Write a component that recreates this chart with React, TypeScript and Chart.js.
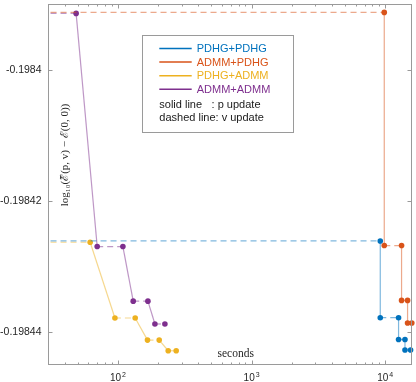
import React, { useEffect, useRef } from "react";
import { Chart, registerables } from "chart.js";

Chart.register(...registerables);

// ---- data ----
const seriesNames = ["PDHG+PDHG", "ADMM+PDHG", "PDHG+ADMM", "ADMM+ADMM"];
const seriesColors = ["#0072BD", "#D95319", "#EDB120", "#7E2F8E"];
const seriesLineColors = [
  "rgba(0,114,189,0.5)",
  "rgba(217,83,25,0.5)",
  "rgba(237,177,32,0.5)",
  "rgba(126,47,142,0.5)",
];

const pdhgPdhgTime = [1, 9175, 9175, 12575, 12575, 14043, 14043, 15466];
const pdhgPdhgValue = [
  -0.1984261, -0.1984261, -0.19843779, -0.19843779, -0.19844112, -0.19844112, -0.19844272, -0.19844272,
];

const admmPdhgTime = [1, 9829, 9829, 13243, 13243, 14684, 14684, 15800];
const admmPdhgValue = [
  -0.19839128, -0.19839128, -0.1984268, -0.1984268, -0.19843516, -0.19843516, -0.19843859, -0.19843859,
];

const pdhgAdmmTime = [1, 62, 95, 134.7, 166.5, 203.7, 237.9, 273];
const pdhgAdmmValue = [
  -0.1984263, -0.1984263, -0.19843784, -0.19843784, -0.19844121, -0.19844121, -0.19844283, -0.19844283,
];

const admmAdmmTime = [1, 48.7, 70, 109, 130.2, 167.7, 189.2, 224.7];
const admmAdmmValue = [
  -0.19839143, -0.19839143, -0.19842695, -0.19842695, -0.19843527, -0.19843527, -0.19843875, -0.19843875,
];

const seriesTimes = [pdhgPdhgTime, admmPdhgTime, pdhgAdmmTime, admmAdmmTime];
const seriesValues = [pdhgPdhgValue, admmPdhgValue, pdhgAdmmValue, admmAdmmValue];

const xTickValues = [100, 1000, 10000];
const xTickBase = "10";
const xTickExponents = ["2", "3", "4"];
const yTickValues = [-0.1984, -0.19842, -0.19844];
const yTickLabels = ["-0.1984", "-0.19842", "-0.19844"];

const xMin = 30;
const xMax = 15850;
const yMin = -0.198445;
const yMax = -0.19839;

const xTitle = "seconds";
const yTitle = "log\u2081\u2080(\u2130\u0303(p, v) \u2212 \u2130(0, 0))";
const noteSolid = ["solid line", ": p update"];
const noteDashed = ["dashed line", ": v update"];

const AXIS_COLOR = "#9a9a9a";
const TEXT_COLOR = "#262626";
const SANS = "'Liberation Sans', Arial, sans-serif";
const SERIF = "'Liberation Serif', 'DejaVu Serif', serif";

const decorPlugin = {
  id: "decor",
  afterDraw(chart: any) {
    const { ctx, chartArea: a, scales } = chart;
    const xs = scales.x;
    const ys = scales.y;
    const L = Math.round(a.left) + 0.5;
    const R = Math.round(a.right) - 0.5;
    const T = Math.round(a.top) + 0.5;
    const B = Math.round(a.bottom) - 0.5;
    ctx.save();
    ctx.strokeStyle = AXIS_COLOR;
    ctx.lineWidth = 1;
    ctx.strokeRect(L, T, R - L, B - T);

    ctx.beginPath();
    // x major ticks
    xTickValues.forEach((v) => {
      const px = Math.round(xs.getPixelForValue(v)) + 0.5;
      ctx.moveTo(px, B);
      ctx.lineTo(px, B - 4);
      ctx.moveTo(px, T);
      ctx.lineTo(px, T + 4);
    });
    // x minor ticks
    for (let d = 1; d <= 4; d++) {
      for (let k = 2; k <= 9; k++) {
        const v = k * Math.pow(10, d);
        if (v <= xMin || v >= xMax) continue;
        const px = Math.round(xs.getPixelForValue(v)) + 0.5;
        ctx.moveTo(px, B);
        ctx.lineTo(px, B - 2);
        ctx.moveTo(px, T);
        ctx.lineTo(px, T + 2);
      }
    }
    // y ticks
    yTickValues.forEach((v) => {
      const py = Math.round(ys.getPixelForValue(v)) + 0.5;
      ctx.moveTo(L, py);
      ctx.lineTo(L + 4, py);
      ctx.moveTo(R, py);
      ctx.lineTo(R - 4, py);
    });
    ctx.stroke();

    // y tick labels
    ctx.fillStyle = TEXT_COLOR;
    ctx.font = `10.5px ${SANS}`;
    ctx.textAlign = "right";
    ctx.textBaseline = "middle";
    yTickValues.forEach((v, i) => {
      ctx.fillText(yTickLabels[i], a.left - 6.5, ys.getPixelForValue(v));
    });

    // x tick labels (10^n)
    ctx.textBaseline = "alphabetic";
    ctx.textAlign = "left";
    xTickValues.forEach((v, i) => {
      const px = xs.getPixelForValue(v);
      ctx.font = `10px ${SANS}`;
      const w1 = ctx.measureText(xTickBase).width;
      ctx.font = `7px ${SANS}`;
      const w2 = ctx.measureText(xTickExponents[i]).width;
      const start = px - (w1 + 1 + w2) / 2;
      ctx.font = `10px ${SANS}`;
      ctx.fillText(xTickBase, start, a.bottom + 16);
      ctx.font = `7px ${SANS}`;
      ctx.fillText(xTickExponents[i], start + w1 + 1, a.bottom + 11.5);
    });

    // axis titles (inside plot)
    ctx.font = `11.5px ${SERIF}`;
    ctx.textAlign = "center";
    ctx.textBaseline = "middle";
    ctx.fillStyle = TEXT_COLOR;
    ctx.fillText(xTitle, 235.7, 354);
    ctx.save();
    ctx.translate(65, 155);
    ctx.rotate(-Math.PI / 2);
    ctx.font = `11px ${SERIF}`;
    ctx.fillText(yTitle, 0, 0);
    ctx.restore();

    // legend
    const bx = 142.5, by = 35.5, bw = 151, bh = 97;
    ctx.fillStyle = "#ffffff";
    ctx.fillRect(bx, by, bw, bh);
    ctx.strokeStyle = AXIS_COLOR;
    ctx.strokeRect(bx, by, bw, bh);
    ctx.font = `11px ${SANS}`;
    ctx.textAlign = "left";
    ctx.textBaseline = "middle";
    seriesNames.forEach((name, i) => {
      const y = 48.5 + i * 13.6;
      ctx.strokeStyle = seriesColors[i];
      ctx.lineWidth = 1.5;
      ctx.beginPath();
      ctx.moveTo(159.3, y);
      ctx.lineTo(191.7, y);
      ctx.stroke();
      ctx.fillStyle = seriesColors[i];
      ctx.fillText(name, 196.7, y + 0.5);
    });
    ctx.fillStyle = "#1a1a1a";
    const colonX = 159.3 + ctx.measureText(noteDashed[0]).width;
    ctx.fillText(noteSolid[0], 159.3, 104.6);
    ctx.fillText(noteSolid[1], colonX - 4, 104.6);
    ctx.fillText(noteDashed[0], 159.3, 118.2);
    ctx.fillText(noteDashed[1], colonX, 118.2);
    ctx.restore();
  },
};

export default function App() {
  const canvasRef = useRef<HTMLCanvasElement | null>(null);

  useEffect(() => {
    if (!canvasRef.current) return;
    const datasets = seriesNames.map((name, i) => ({
      label: name,
      data: seriesTimes[i].map((t, j) => ({ x: t, y: seriesValues[i][j] })),
      borderColor: seriesLineColors[i],
      backgroundColor: seriesColors[i],
      pointBackgroundColor: seriesColors[i],
      pointBorderWidth: 0,
      pointRadius: seriesTimes[i].map((_, j) => (j === 0 ? 0 : 2.8)),
      borderWidth: 1.2,
      tension: 0,
      clip: { left: 0, top: 6, right: 6, bottom: 6 },
      segment: {
        borderDash: (c: any) => (c.p0.parsed.y === c.p1.parsed.y ? [6, 4] : undefined),
      },
    }));
    const chart = new Chart(canvasRef.current, {
      type: "line",
      data: { datasets },
      options: {
        responsive: false,
        animation: false,
        layout: { padding: { left: 48, right: 3, top: 1, bottom: 17 } },
        plugins: { legend: { display: false }, tooltip: { enabled: false } },
        scales: {
          x: { type: "logarithmic", min: xMin, max: xMax, display: false },
          y: { type: "linear", min: yMin, max: yMax, display: false },
        },
      },
      plugins: [decorPlugin],
    });
    return () => chart.destroy();
  }, []);

  return (
    <div style={{ position: "fixed", left: 0, top: 0, width: 416, height: 382, background: "#fff" }}>
      <canvas ref={canvasRef} width={416} height={382} style={{ display: "block" }} />
    </div>
  );
}
